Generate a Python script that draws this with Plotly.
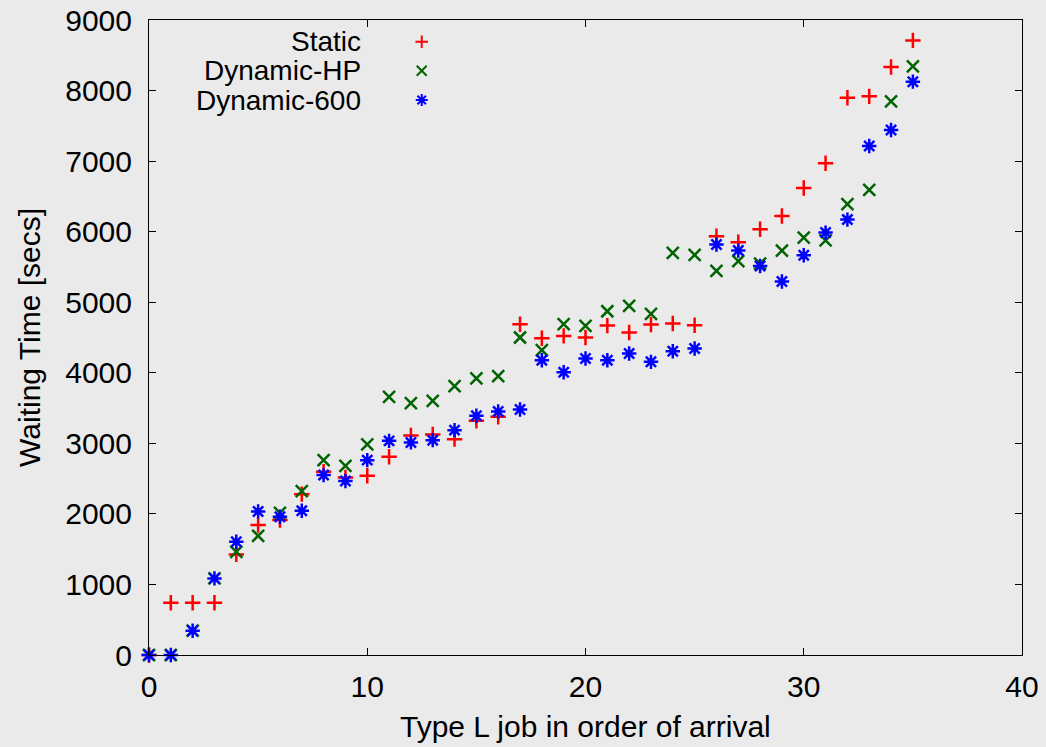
import plotly.graph_objects as go

jobs = list(range(36))
static = [0, 741, 741, 741, 1426, 1841, 1912, 2280, 2597, 2517, 2540, 2809, 3112, 3126, 3059, 3319, 3376, 4688, 4490, 4523, 4500, 4669, 4571, 4683, 4698, 4674, 5935, 5850, 6034, 6222, 6619, 6969, 7899, 7918, 8333, 8711]
dyn_hp = [0, 0, 344, 1086, 1463, 1690, 2016, 2323, 2762, 2682, 2984, 3659, 3569, 3602, 3810, 3919, 3952, 4500, 4320, 4688, 4665, 4872, 4948, 4835, 5698, 5670, 5443, 5581, 5548, 5732, 5916, 5878, 6392, 6591, 7847, 8343]
dyn_600 = [0, 0, 344, 1086, 1605, 2035, 1959, 2044, 2550, 2465, 2762, 3035, 3013, 3045, 3187, 3390, 3451, 3480, 4178, 4008, 4202, 4178, 4273, 4155, 4306, 4344, 5817, 5732, 5514, 5293, 5666, 5987, 6171, 7214, 7440, 8126]
series_names = ["Static", "Dynamic-HP", "Dynamic-600"]
x_ticks = [0, 10, 20, 30, 40]
y_ticks = [0, 1000, 2000, 3000, 4000, 5000, 6000, 7000, 8000, 9000]

colors = ["#ff0000", "#006400", "#0000ff"]
symbols = ["cross-thin-open", "x-thin-open", "asterisk-open"]
sizes = [11, 12, 12]
FONT = "Liberation Sans, Arial, sans-serif"
BG = "#eaeaea"
FS = 30
LEG_FS = 28

fig = go.Figure()
for name, vals, c, s, sz in zip(series_names, [static, dyn_hp, dyn_600], colors, symbols, sizes):
    fig.add_trace(go.Scatter(
        x=jobs, y=vals, mode="markers", name=name, showlegend=False,
        marker=dict(symbol=s, size=sz, color=c, line=dict(color=c, width=2.5)),
        cliponaxis=False,
    ))

# custom gnuplot-style legend (text right-aligned, sample on the right)
leg_y = [0.9658, 0.920, 0.874]
for name, c, s, sz, ly in zip(series_names, colors, symbols, sizes, leg_y):
    fig.add_trace(go.Scatter(
        x=[0.3124], y=[ly], xaxis="x2", yaxis="y2", mode="markers", showlegend=False,
        marker=dict(symbol=s, size=sz - 2, color=c, line=dict(color=c, width=2)),
        hoverinfo="skip",
    ))
    fig.add_annotation(x=0.245, y=ly, xref="paper", yref="paper", text=name,
                       showarrow=False, xanchor="right", yanchor="middle",
                       font=dict(family=FONT, size=LEG_FS, color="black"))

fig.add_annotation(x=0.5, y=-0.113, xref="paper", yref="paper",
                   text="Type L job in order of arrival", showarrow=False,
                   xanchor="center", yanchor="middle",
                   font=dict(family=FONT, size=FS, color="black"))
fig.add_annotation(x=-0.137, y=0.5, xref="paper", yref="paper",
                   text="Waiting Time [secs]", showarrow=False, textangle=-90,
                   xanchor="center", yanchor="middle",
                   font=dict(family=FONT, size=FS, color="black"))

axis_common = dict(showgrid=False, zeroline=False, showline=True, linecolor="black",
                   linewidth=1, mirror="ticks", ticks="inside", ticklen=7,
                   tickcolor="black", tickwidth=1, automargin=False,
                   tickfont=dict(family=FONT, size=FS, color="black"))
fig.update_layout(
    width=1046, height=747,
    margin=dict(l=149, r=24, t=20, b=92),
    paper_bgcolor=BG, plot_bgcolor=BG,
    xaxis=dict(range=[0, 40], tickvals=x_ticks, ticklabelstandoff=5, **axis_common),
    yaxis=dict(range=[0, 9000], tickvals=y_ticks, ticklabelstandoff=10, **axis_common),
    xaxis2=dict(range=[0, 1], overlaying="x", visible=False),
    yaxis2=dict(range=[0, 1], overlaying="y", visible=False),
)
fig.write_html("out.html")
